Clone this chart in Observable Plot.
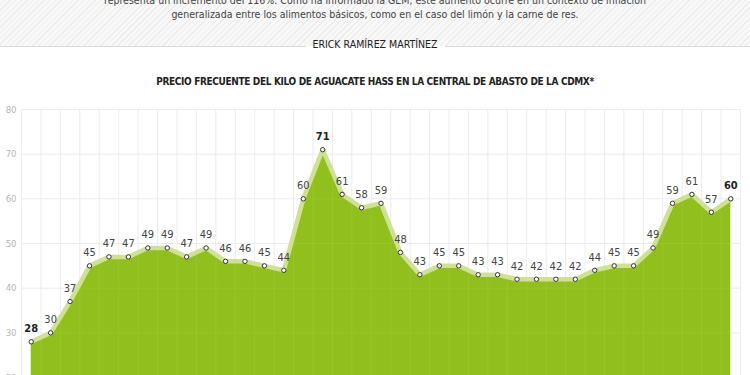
<!DOCTYPE html>
<html>
<head>
<meta charset="utf-8">
<script src="https://cdn.jsdelivr.net/npm/d3@7"></script>
<script src="https://cdn.jsdelivr.net/npm/@observablehq/plot@0.6"></script>
<style>
  html, body { margin: 0; padding: 0; width: 750px; height: 375px; overflow: hidden; background: #fff; }
  body { position: relative; font-family: "DejaVu Sans Condensed", "Liberation Sans Narrow", Roboto, sans-serif; }
  #header { position: absolute; left: 0; top: 0; width: 750px; height: 46px;
    background: repeating-linear-gradient(135deg, #f8f8f8 0px, #f8f8f8 3px, #ececec 3px, #ececec 4px); }
  .intro { position: absolute; left: 0; width: 750px; text-align: center; font-size: 10.5px; color: #444; white-space: nowrap; }
  #byline { position: absolute; left: 0; top: 38px; width: 750px; text-align: center; font-size: 10.5px; color: #222; }
  .bl { position: absolute; top: 46px; height: 1px; background: #d9d9d9; }
  #title { position: absolute; left: 0; top: 76px; width: 750px; text-align: center; font-size: 10px; letter-spacing: -0.35px; font-weight: bold; color: #222; white-space: nowrap; }
  #chart { position: absolute; left: 0; top: 100px; }
</style>
</head>
<body>
<div id="header">
  <div class="intro" style="top:-6px">representa un incremento del 116%. Como ha informado la GEM, este aumento ocurre en un contexto de inflación</div>
  <div class="intro" style="top:8px">generalizada entre los alimentos básicos, como en el caso del limón y la carne de res.</div>
</div>
<div class="bl" style="left:0;width:306px"></div>
<div class="bl" style="left:445px;width:305px"></div>
<div id="byline">ERICK RAMÍREZ MARTÍNEZ</div>
<div id="title">PRECIO FRECUENTE DEL KILO DE AGUACATE HASS EN LA CENTRAL DE ABASTO DE LA CDMX*</div>
<div id="chart"></div>
<script>
const prices = [28,30,37,45,47,47,49,49,47,49,46,46,45,44,60,71,61,58,59,48,43,45,45,43,43,42,42,42,42,44,45,45,49,59,61,57,60];
const yTicks = [20,30,40,50,60,70,80];
const highlighted = [0, 15, 36];

const data = prices.map((v, i) => ({i, v, bold: highlighted.includes(i)}));
const n = prices.length;
const vGrid = d3.range(-0.5, n, 1);

const plot = Plot.plot({
  width: 750,
  height: 297,
  marginTop: 9,
  marginBottom: 20,
  marginLeft: 21,
  marginRight: 10,
  x: {domain: [-0.5, n - 0.5], axis: null},
  y: {domain: [20, 80], axis: null},
  style: {fontFamily: "'DejaVu Sans Condensed', 'Liberation Sans Narrow', Roboto, sans-serif"},
  marks: [
    Plot.ruleY(yTicks, {x1: -0.5, x2: n - 0.5, stroke: "#ececec", strokeWidth: 1}),
    Plot.ruleX(vGrid, {y1: 20, y2: 80, stroke: "#ececec", strokeWidth: 1}),
    Plot.text(yTicks, {x: -0.5, y: d => d, text: d => String(d), textAnchor: "end", dx: -5, fill: "#b5b5b5", fontSize: 9.5}),
    Plot.areaY(data, {x: "i", y1: 20, y2: "v", fill: "#91bf1d"}),
    Plot.ruleY(yTicks, {x1: -0.5, x2: n - 0.5, stroke: "#ffffff", strokeOpacity: 0.08}),
    Plot.ruleX(vGrid, {y1: 20, y2: 80, stroke: "#ffffff", strokeOpacity: 0.08}),
    Plot.line(data, {x: "i", y: "v", stroke: "#cfe192", strokeWidth: 4.5, strokeLinejoin: "round"}),
    Plot.dot(data, {x: "i", y: "v", r: 2.2, fill: "#fff", stroke: "#333", strokeWidth: 1}),
    Plot.text(data.filter(d => !d.bold), {x: "i", y: "v", text: d => String(d.v), dy: -13, fill: "#444", fontSize: 11}),
    Plot.text(data.filter(d => d.bold), {x: "i", y: "v", text: d => String(d.v), dy: -13, fill: "#222", fontSize: 11, fontWeight: "bold"})
  ]
});
document.getElementById("chart").appendChild(plot);
</script>
</body>
</html>
